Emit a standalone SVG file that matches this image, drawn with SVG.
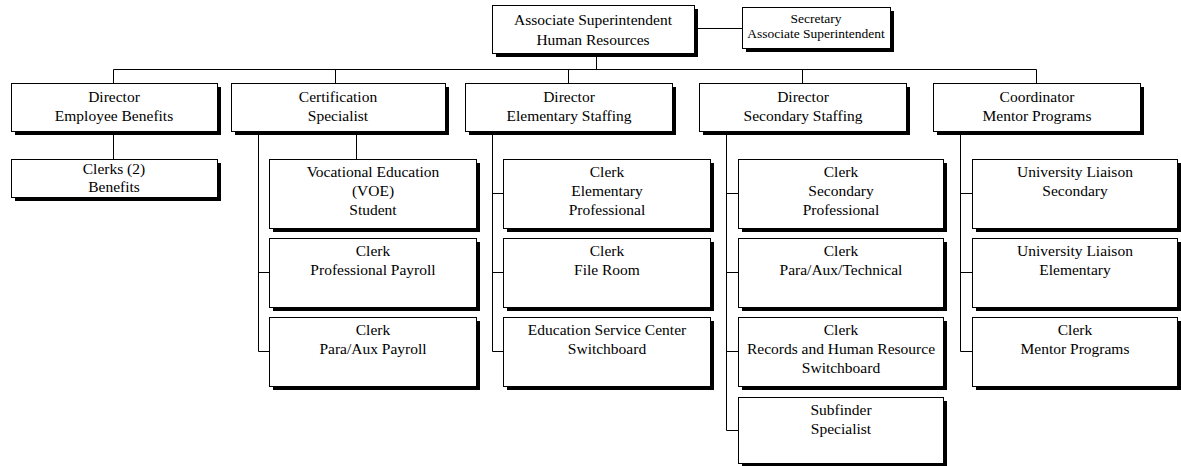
<svg xmlns="http://www.w3.org/2000/svg" width="1181" height="466" viewBox="0 0 1181 466">
  <style>
    .shadow { fill: #000; }
    .box { fill: #fff; stroke: #000; stroke-width: 1; }
    .lbl { font-family: "Liberation Serif", "Times New Roman", serif; font-size: 15.5px; fill: #000; text-anchor: middle; }
    .sm { font-size: 13.5px; }
    .conn { fill: none; stroke: #000; stroke-width: 1; }
  </style>
  <rect width="1181" height="466" fill="#fff"/>

  <!-- connectors -->
  <g id="connectors" class="conn">
    <path d="M596.5 53 V69.5"/>
    <path d="M694 28.5 H742"/>
    <path d="M113.5 83 V69.5 H1036.5 V83"/>
    <path d="M335.5 69.5 V83"/>
    <path d="M568.5 69.5 V83"/>
    <path d="M802.5 69.5 V83"/>
    <path d="M113.5 131 V159"/>
    <path d="M356.5 131 V159"/>
    <path d="M258.5 131 V351.5 H269 M258.5 272.5 H269"/>
    <path d="M492.5 131 V351.5 H503 M492.5 193.5 H503 M492.5 272.5 H503"/>
    <path d="M726.5 131 V430.5 H738 M726.5 193.5 H738 M726.5 272.5 H738 M726.5 351.5 H738"/>
    <path d="M960.5 131 V351.5 H972 M960.5 193.5 H972 M960.5 272.5 H972"/>
  </g>

  <!-- top level -->
  <g id="assoc-supt">
    <rect class="shadow" x="496" y="9" width="202" height="48"/>
    <rect class="box" x="492.5" y="5.5" width="202" height="48"/>
    <text class="lbl" x="593" y="25">Associate Superintendent</text>
    <text class="lbl" x="593" y="45">Human Resources</text>
  </g>
  <g id="secretary">
    <rect class="shadow" x="746" y="11" width="148" height="41"/>
    <rect class="box" x="742.5" y="7.5" width="148" height="41"/>
    <text class="lbl sm" x="816" y="23">Secretary</text>
    <text class="lbl sm" x="816" y="38">Associate Superintendent</text>
  </g>

  <!-- directors row -->
  <g id="dir-benefits">
    <rect class="shadow" x="15" y="87" width="206" height="48"/>
    <rect class="box" x="11.5" y="83.5" width="206" height="48"/>
    <text class="lbl" x="114" y="102">Director</text>
    <text class="lbl" x="114" y="121">Employee Benefits</text>
  </g>
  <g id="cert-specialist">
    <rect class="shadow" x="235" y="87" width="214" height="48"/>
    <rect class="box" x="231.5" y="83.5" width="214" height="48"/>
    <text class="lbl" x="338" y="102">Certification</text>
    <text class="lbl" x="338" y="121">Specialist</text>
  </g>
  <g id="dir-elem">
    <rect class="shadow" x="469" y="87" width="207" height="48"/>
    <rect class="box" x="465.5" y="83.5" width="207" height="48"/>
    <text class="lbl" x="569" y="102">Director</text>
    <text class="lbl" x="569" y="121">Elementary Staffing</text>
  </g>
  <g id="dir-sec">
    <rect class="shadow" x="703" y="87" width="207" height="48"/>
    <rect class="box" x="699.5" y="83.5" width="207" height="48"/>
    <text class="lbl" x="803" y="102">Director</text>
    <text class="lbl" x="803" y="121">Secondary Staffing</text>
  </g>
  <g id="coord-mentor">
    <rect class="shadow" x="937" y="87" width="207" height="48"/>
    <rect class="box" x="933.5" y="83.5" width="207" height="48"/>
    <text class="lbl" x="1037" y="102">Coordinator</text>
    <text class="lbl" x="1037" y="121">Mentor Programs</text>
  </g>

  <!-- benefits column -->
  <g id="clerks-benefits">
    <rect class="shadow" x="15" y="163" width="206" height="38"/>
    <rect class="box" x="11.5" y="159.5" width="206" height="38"/>
    <text class="lbl" x="114" y="174">Clerks (2)</text>
    <text class="lbl" x="114" y="192">Benefits</text>
  </g>

  <!-- certification column -->
  <g id="voe-student">
    <rect class="shadow" x="273" y="163" width="207" height="69"/>
    <rect class="box" x="269.5" y="159.5" width="207" height="69"/>
    <text class="lbl" x="373" y="177">Vocational Education</text>
    <text class="lbl" x="373" y="196">(VOE)</text>
    <text class="lbl" x="373" y="215">Student</text>
  </g>
  <g id="clerk-prof-payroll">
    <rect class="shadow" x="273" y="242" width="207" height="69"/>
    <rect class="box" x="269.5" y="238.5" width="207" height="69"/>
    <text class="lbl" x="373" y="256">Clerk</text>
    <text class="lbl" x="373" y="275">Professional Payroll</text>
  </g>
  <g id="clerk-para-payroll">
    <rect class="shadow" x="273" y="321" width="207" height="69"/>
    <rect class="box" x="269.5" y="317.5" width="207" height="69"/>
    <text class="lbl" x="373" y="335">Clerk</text>
    <text class="lbl" x="373" y="354">Para/Aux Payroll</text>
  </g>

  <!-- elementary column -->
  <g id="clerk-elem-prof">
    <rect class="shadow" x="507" y="163" width="207" height="69"/>
    <rect class="box" x="503.5" y="159.5" width="207" height="69"/>
    <text class="lbl" x="607" y="177">Clerk</text>
    <text class="lbl" x="607" y="196">Elementary</text>
    <text class="lbl" x="607" y="215">Professional</text>
  </g>
  <g id="clerk-file-room">
    <rect class="shadow" x="507" y="242" width="207" height="69"/>
    <rect class="box" x="503.5" y="238.5" width="207" height="69"/>
    <text class="lbl" x="607" y="256">Clerk</text>
    <text class="lbl" x="607" y="275">File Room</text>
  </g>
  <g id="esc-switchboard">
    <rect class="shadow" x="507" y="321" width="207" height="69"/>
    <rect class="box" x="503.5" y="317.5" width="207" height="69"/>
    <text class="lbl" x="607" y="335">Education Service Center</text>
    <text class="lbl" x="607" y="354">Switchboard</text>
  </g>

  <!-- secondary column -->
  <g id="clerk-sec-prof">
    <rect class="shadow" x="742" y="163" width="205" height="69"/>
    <rect class="box" x="738.5" y="159.5" width="205" height="69"/>
    <text class="lbl" x="841" y="177">Clerk</text>
    <text class="lbl" x="841" y="196">Secondary</text>
    <text class="lbl" x="841" y="215">Professional</text>
  </g>
  <g id="clerk-para-tech">
    <rect class="shadow" x="742" y="242" width="205" height="69"/>
    <rect class="box" x="738.5" y="238.5" width="205" height="69"/>
    <text class="lbl" x="841" y="256">Clerk</text>
    <text class="lbl" x="841" y="275">Para/Aux/Technical</text>
  </g>
  <g id="clerk-records">
    <rect class="shadow" x="742" y="321" width="205" height="69"/>
    <rect class="box" x="738.5" y="317.5" width="205" height="69"/>
    <text class="lbl" x="841" y="335">Clerk</text>
    <text class="lbl" x="841" y="354">Records and Human Resource</text>
    <text class="lbl" x="841" y="373">Switchboard</text>
  </g>
  <g id="subfinder">
    <rect class="shadow" x="742" y="401" width="205" height="66"/>
    <rect class="box" x="738.5" y="397.5" width="205" height="66"/>
    <text class="lbl" x="841" y="415">Subfinder</text>
    <text class="lbl" x="841" y="434">Specialist</text>
  </g>

  <!-- mentor column -->
  <g id="liaison-sec">
    <rect class="shadow" x="976" y="163" width="205" height="69"/>
    <rect class="box" x="972.5" y="159.5" width="205" height="69"/>
    <text class="lbl" x="1075" y="177">University Liaison</text>
    <text class="lbl" x="1075" y="196">Secondary</text>
  </g>
  <g id="liaison-elem">
    <rect class="shadow" x="976" y="242" width="205" height="69"/>
    <rect class="box" x="972.5" y="238.5" width="205" height="69"/>
    <text class="lbl" x="1075" y="256">University Liaison</text>
    <text class="lbl" x="1075" y="275">Elementary</text>
  </g>
  <g id="clerk-mentor">
    <rect class="shadow" x="976" y="321" width="205" height="69"/>
    <rect class="box" x="972.5" y="317.5" width="205" height="69"/>
    <text class="lbl" x="1075" y="335">Clerk</text>
    <text class="lbl" x="1075" y="354">Mentor Programs</text>
  </g>
</svg>
